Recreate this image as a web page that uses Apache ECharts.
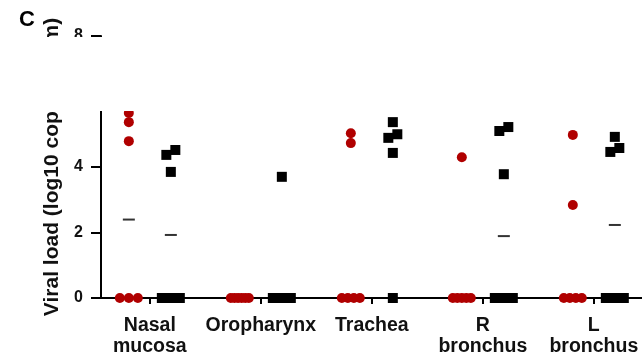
<!DOCTYPE html>
<html>
<head>
<meta charset="utf-8">
<script src="https://cdn.jsdelivr.net/npm/echarts@6/dist/echarts.min.js"></script>
<style>
  html, body { margin: 0; padding: 0; background: #fff; }
  #c { width: 642px; height: 358px; }
</style>
</head>
<body>
<div id="c"></div>
<script>
// Tissue sites along the x axis
const categories = ['Nasal\nmucosa', 'Oropharynx', 'Trachea', 'R\nbronchus', 'L\nbronchus'];
const categoryIndex = [0, 1, 2, 3, 4];
const yTicks = [0, 2, 4, 6, 8];

// Viral load (log10) per animal, one list per site
const redValues = [
  [0, 0, 0, 4.79, 5.37, 5.65],
  [0, 0, 0, 0, 0, 0],
  [0, 0, 0, 0, 4.73, 5.03],
  [0, 0, 0, 0, 0, 4.30],
  [0, 0, 0, 0, 2.84, 4.98]
];
const blackValues = [
  [0, 0, 0, 3.85, 4.37, 4.52],
  [0, 0, 0, 0, 0, 3.70],
  [0, 4.43, 4.89, 5.00, 5.37],
  [0, 0, 0, 3.78, 5.10, 5.22],
  [0, 0, 0, 4.46, 4.58, 4.92]
];

const RED = '#b00000';
const FONT = '"Liberation Sans", Arial, sans-serif';
const MARK = 10;        // marker size in px
const SIDE = 21;        // horizontal offset of each group from the site tick, px
const MAX_SPAN = 28;    // widest a row of overlapping points may spread, px

const chart = echarts.init(document.getElementById('c'), null, { renderer: 'canvas' });

chart.setOption({
  animation: false,
  backgroundColor: '#fff',
  title: {
    text: 'C', left: 14, top: 4,
    textStyle: { fontFamily: FONT, fontWeight: 'bold', fontSize: 22, color: '#000' }
  },
  grid: { left: 101, right: 0, top: 36, bottom: 60, outerBoundsMode: 'none' },
  xAxis: {
    type: 'value', min: -0.44, max: 4.434,
    splitLine: { show: false },
    axisLine: { show: true, onZero: false, lineStyle: { color: '#000', width: 2 } },
    axisTick: { show: true, customValues: categoryIndex, length: 6, lineStyle: { color: '#000', width: 2 } },
    axisLabel: {
      customValues: categoryIndex,
      formatter: v => categories[Math.round(v)],
      margin: 17, color: '#111', fontFamily: FONT, fontWeight: 'bold', fontSize: 19.5, lineHeight: 21,
      align: 'center'
    }
  },
  yAxis: {
    type: 'value', min: 0, max: 8, interval: 2,
    splitLine: { show: false },
    axisLine: { show: true, onZero: false, lineStyle: { color: '#000', width: 2 } },
    axisTick: { show: true, length: 10, lineStyle: { color: '#000', width: 2 } },
    axisLabel: {
      customValues: yTicks, margin: 18, color: '#111',
      fontFamily: FONT, fontWeight: 'bold', fontSize: 16
    },
    name: 'Viral load (log10 copies/gram)',
    nameLocation: 'middle', nameRotate: 90, nameGap: 35,
    nameTextStyle: { fontFamily: FONT, fontWeight: 'bold', fontSize: 21, color: '#111' }
  },
  series: []
});

// Lay out one group's points as a dot plot: points closer than a marker
// height share a row and are spread sideways around the group centre.
function dotLayout(values, cat, sideOffset) {
  const cx = chart.convertToPixel({ gridIndex: 0 }, [cat, 0])[0] + sideOffset;
  const sorted = values.slice().sort((a, b) => a - b);
  const rows = [];
  sorted.forEach(v => {
    const py = chart.convertToPixel({ gridIndex: 0 }, [0, v])[1];
    const row = rows[rows.length - 1];
    if (row && Math.abs(row.py - py) < MARK * 0.9) row.items.push(v);
    else rows.push({ py, items: [v] });
  });
  const pts = [];
  rows.forEach(r => {
    const n = r.items.length;
    const step = n > 1 ? Math.min(MARK * 0.9, (MAX_SPAN - MARK) / (n - 1)) : 0;
    r.items.forEach((v, k) => {
      const px = cx + (k - (n - 1) / 2) * step;
      pts.push([chart.convertFromPixel({ gridIndex: 0 }, [px, 0])[0], v]);
    });
  });
  return pts;
}

function median(arr) {
  const s = arr.slice().sort((a, b) => a - b);
  const m = Math.floor(s.length / 2);
  return s.length % 2 ? s[m] : (s[m - 1] + s[m]) / 2;
}

function groupCentre(cat, sideOffset) {
  const px = chart.convertToPixel({ gridIndex: 0 }, [cat, 0])[0] + sideOffset;
  return chart.convertFromPixel({ gridIndex: 0 }, [px, 0])[0];
}

const redPts = [], blackPts = [], medians = [];
categoryIndex.forEach(i => {
  redPts.push(...dotLayout(redValues[i], i, -SIDE));
  blackPts.push(...dotLayout(blackValues[i], i, SIDE));
  medians.push([groupCentre(i, -SIDE), median(redValues[i])]);
  medians.push([groupCentre(i, SIDE), median(blackValues[i])]);
});

chart.setOption({
  series: [
    {
      name: 'Median', type: 'scatter', z: 1,
      symbol: 'rect', symbolSize: [12, 2],
      itemStyle: { color: '#333', opacity: 1 },
      data: medians
    },
    {
      name: 'Group A', type: 'scatter', z: 3,
      symbol: 'circle', symbolSize: MARK,
      itemStyle: { color: RED, opacity: 1 },
      data: redPts
    },
    {
      name: 'Group B', type: 'scatter', z: 4,
      symbol: 'rect', symbolSize: MARK,
      itemStyle: { color: '#000', opacity: 1 },
      data: blackPts
    }
  ],
  graphic: [{
    type: 'rect', z: 100,
    shape: { x: 0, y: 37, width: 642, height: 74 },
    style: { fill: '#fff' }
  }]
});
</script>
</body>
</html>
